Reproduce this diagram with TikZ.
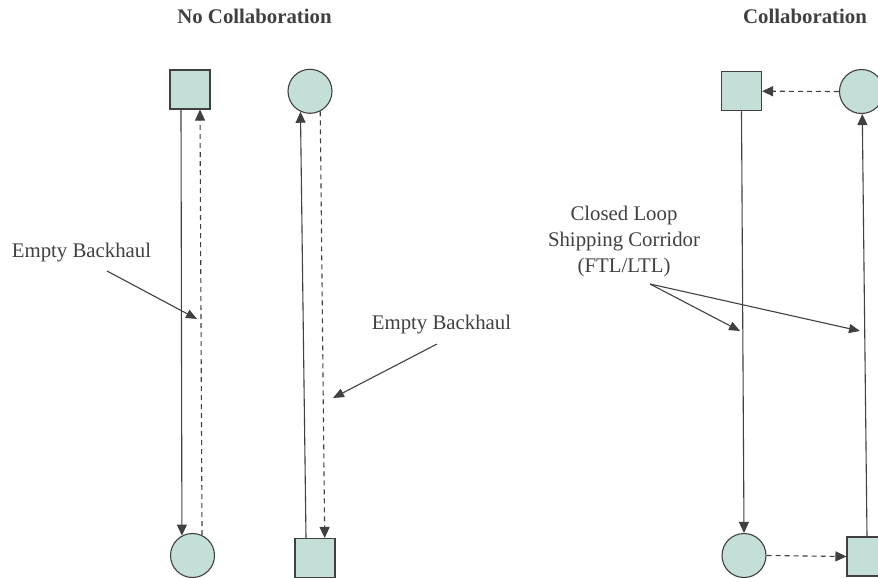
\documentclass[tikz,border=0pt]{standalone}
\usepackage{fontspec}
\setmainfont{Liberation Serif}
\usetikzlibrary{arrows.meta}
\definecolor{nodefill}{HTML}{C4DFD8}
\definecolor{ink}{HTML}{404040}
\begin{document}
\begin{tikzpicture}[x=1pt,y=-1pt,
  box/.style={draw=ink, fill=nodefill, line width=1.1pt, minimum width=40pt, minimum height=39pt, inner sep=0pt},
  disc/.style={circle, draw=ink, fill=nodefill, line width=1.1pt, minimum size=44pt, inner sep=0pt},
  flow/.style={draw=ink, line width=1.1pt, -{Triangle[length=11pt,width=10pt]}},
  back/.style={flow, dash pattern=on 5pt off 4pt},
  note/.style={text=ink, font=\fontsize{20.8}{26}\selectfont, align=center, inner sep=0pt},
  heading/.style={text=ink, font=\fontsize{20.8}{26}\selectfont\bfseries, inner sep=0pt},
  pointer/.style={draw=ink, line width=1.1pt, -{Triangle[length=11pt,width=9pt]}}
]
\path[use as bounding box, clip] (0,0) rectangle (878,578);

% headings
\node[heading] (hNo) at (254.5,16) {No Collaboration};
\node[heading] (hYes) at (805,16) {Collaboration};

% --- no collaboration: two separate lanes ---
\node[box]  (S1) at (190,89.5) {};
\node[disc] (C1) at (310,91.3) {};
\node[disc] (C2) at (192.5,555.5) {};
\node[box]  (S2) at (315,558) {};

\draw[flow] ([xshift=-9pt]S1.south) -- (C2.118);
\draw[back] (C2.65) -- ([xshift=10pt]S1.south);
\draw[flow] ([xshift=-9pt]S2.north) -- (C1.245);
\draw[back] (C1.297) -- ([xshift=9.7pt]S2.north);

% --- collaboration: closed loop ---
\node[box]  (S3) at (741.5,91.2) {};
\node[disc] (C3) at (861.5,91.5) {};
\node[disc] (C4) at (744,555.5) {};
\node[box]  (S4) at (867,556.5) {};

\draw[back] (C3.west) -- (S3.east);
\draw[flow] (S3.south) -- (C4.north);
\draw[back] (C4.east) -- (S4.west);
\draw[flow] (S4.north) -- (C3.272);

% --- annotations ---
\node[note] (eb1) at (81.5,253) {Empty Backhaul};
\coordinate (eb1a) at (107,271);
\coordinate (eb1b) at (197,319);
\draw[pointer] (eb1a) -- (eb1b);

\node[note] (eb2) at (441.5,325) {Empty Backhaul};
\coordinate (eb2a) at (437,344);
\coordinate (eb2b) at (333,398);
\draw[pointer] (eb2a) -- (eb2b);

\node[note] (loop) at (624,241) {Closed Loop\\Shipping Corridor\\(FTL/LTL)};
\coordinate (loopa) at (650,284);
\coordinate (loopb) at (740,331);
\coordinate (loopc) at (860,331);
\draw[pointer] (loopa) -- (loopb);
\draw[pointer] (loopa) -- (loopc);
\end{tikzpicture}
\end{document}
